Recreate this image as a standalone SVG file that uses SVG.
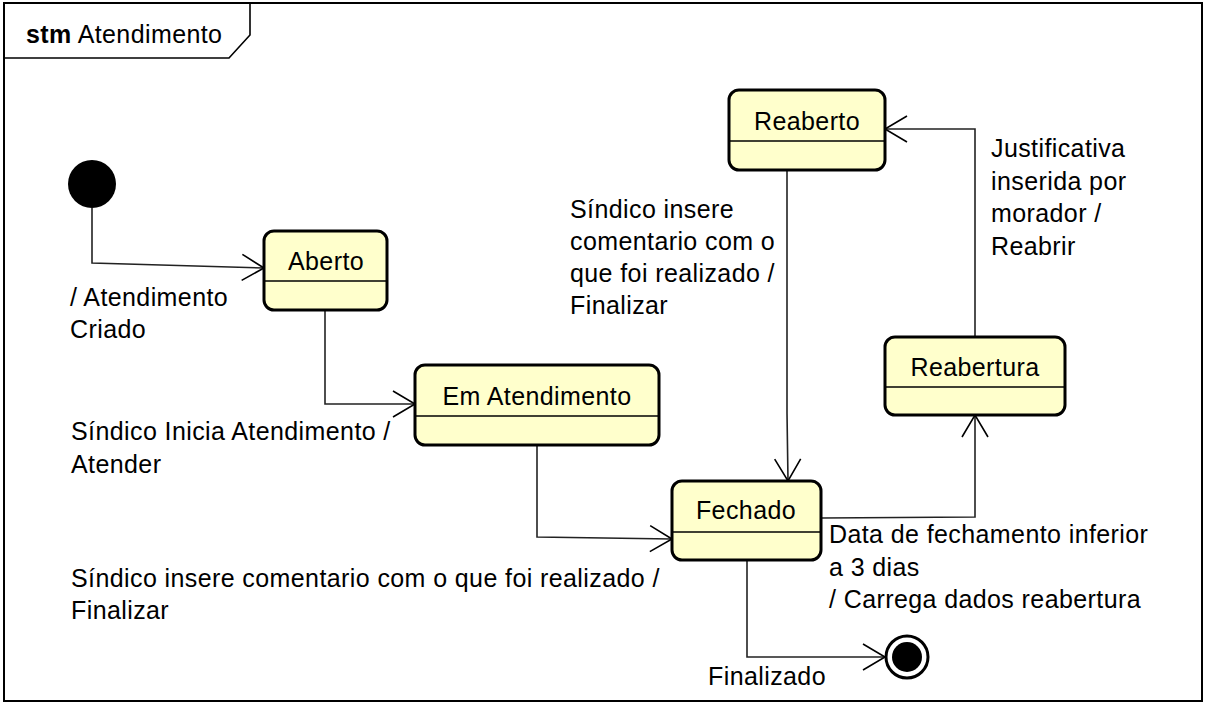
<svg xmlns="http://www.w3.org/2000/svg" width="1206" height="705" viewBox="0 0 1206 705">
<style>
text{font-family:"Liberation Sans",Arial,sans-serif;font-size:25px;letter-spacing:0.4px;fill:#000}
.st rect{fill:#FFFFCC;stroke:#000;stroke-width:3}
.st line{stroke:#000;stroke-width:1.5}
.c{text-anchor:middle}
#connectors path{fill:none;stroke:#222;stroke-width:1.6;marker-end:url(#arr)}
</style>
<defs>
<marker id="arr" markerUnits="userSpaceOnUse" viewBox="-24 -15 26 30" refX="0" refY="0" markerWidth="26" markerHeight="30" orient="auto">
<path d="M-22,-13 L0,0 L-22,13" fill="none" stroke="#000" stroke-width="1.6"/>
</marker>
</defs>
<rect x="0" y="0" width="1206" height="705" fill="#fff"/>
<g id="frame">
<rect x="4" y="3" width="1198" height="698" fill="none" stroke="#000" stroke-width="2"/>
<path d="M4,58 H229 L250,35 V3" fill="none" stroke="#000" stroke-width="1.6"/>
<text x="26" y="43"><tspan font-weight="bold">stm</tspan> Atendimento</text>
</g>
<g id="connectors">
<path d="M92,208 V263 L264,268"/>
<path d="M325,310 V404 H415"/>
<path d="M537,445 V537 L672,539"/>
<path d="M787,170 V413 L788,481"/>
<path d="M822,518 L975,517 V415"/>
<path d="M975,337 V129 H885"/>
<path d="M747,560 V657 H885"/>
</g>
<g id="initial"><circle cx="92" cy="184" r="24" fill="#000"/></g>
<g id="aberto" class="st"><rect x="264" y="231" width="123" height="79" rx="10"/><line x1="265" y1="281" x2="386" y2="281"/><text class="c" x="326" y="270">Aberto</text></g>
<g id="em-atendimento" class="st"><rect x="415" y="365" width="244" height="80" rx="10"/><line x1="416" y1="416" x2="658" y2="416"/><text class="c" x="537" y="405">Em Atendimento</text></g>
<g id="fechado" class="st"><rect x="672" y="481" width="149" height="79" rx="10"/><line x1="673" y1="532" x2="820" y2="532"/><text class="c" x="746" y="519">Fechado</text></g>
<g id="reaberto" class="st"><rect x="729" y="90" width="156" height="80" rx="10"/><line x1="730" y1="141" x2="884" y2="141"/><text class="c" x="807" y="130">Reaberto</text></g>
<g id="reabertura" class="st"><rect x="885" y="337" width="180" height="78" rx="10"/><line x1="886" y1="387" x2="1064" y2="387"/><text class="c" x="975" y="376">Reabertura</text></g>
<g id="final"><circle cx="907" cy="657" r="21" fill="#fff" stroke="#000" stroke-width="3"/><circle cx="907" cy="657" r="15" fill="#000"/></g>
<g id="labels">
<text x="70" y="306">/ Atendimento</text>
<text x="70" y="338">Criado</text>
<text x="71" y="440">Síndico Inicia Atendimento /</text>
<text x="71" y="473">Atender</text>
<text x="71" y="587">Síndico insere comentario com o que foi realizado /</text>
<text x="71" y="619">Finalizar</text>
<text x="570" y="218">Síndico insere</text>
<text x="570" y="250">comentario com o</text>
<text x="570" y="282">que foi realizado /</text>
<text x="570" y="314">Finalizar</text>
<text x="991" y="157">Justificativa</text>
<text x="991" y="189.5">inserida por</text>
<text x="991" y="222">morador /</text>
<text x="991" y="254.5">Reabrir</text>
<text x="829" y="543">Data de fechamento inferior</text>
<text x="829" y="575.5">a 3 dias</text>
<text x="829" y="608">/ Carrega dados reabertura</text>
<text x="708" y="685">Finalizado</text>
</g>
</svg>
